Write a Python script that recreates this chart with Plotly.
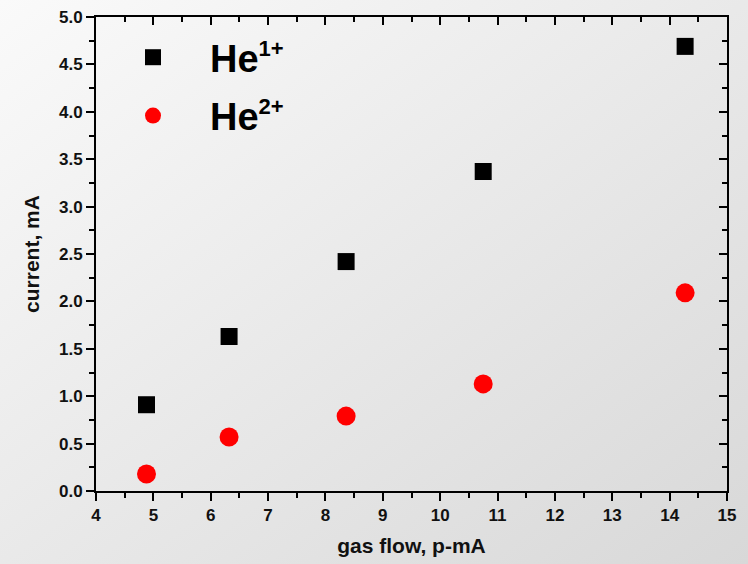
import base64
import plotly.graph_objects as go

# Measured ion currents versus gas flow
gas_flow = [4.88, 6.32, 8.36, 10.75, 14.27]
he1_current = [0.91, 1.63, 2.42, 3.37, 4.69]
he2_current = [0.18, 0.57, 0.79, 1.13, 2.09]

x_ticks = list(range(4, 16))
y_ticks = [0.0, 0.5, 1.0, 1.5, 2.0, 2.5, 3.0, 3.5, 4.0, 4.5, 5.0]

W, H = 748, 564
ML, MR, MT, MB = 96, 21, 17, 73
PW, PH = W - ML - MR, H - MT - MB

FONT = "Liberation Sans"

# soft diagonal grey gradient behind the whole figure
svg = (
    f'<svg xmlns="http://www.w3.org/2000/svg" width="{W}" height="{H}">'
    '<defs><linearGradient id="g" x1="0" y1="0" x2="1" y2="1">'
    '<stop offset="0" stop-color="#fafafa"/><stop offset="1" stop-color="#d8d8d8"/>'
    '</linearGradient></defs>'
    f'<rect width="{W}" height="{H}" fill="url(#g)"/></svg>'
)
bg_uri = "data:image/svg+xml;base64," + base64.b64encode(svg.encode()).decode()

fig = go.Figure()
fig.add_trace(go.Scatter(
    x=gas_flow, y=he1_current, mode="markers",
    name='<b>He<sup><span style="font-size:22px">1+</span></sup></b>',
    marker=dict(symbol="square", size=17, color="black"),
    legendgroup="a",
))
fig.add_trace(go.Scatter(
    x=gas_flow, y=he2_current, mode="markers",
    name='<b>He<sup><span style="font-size:22px">2+</span></sup></b>',
    marker=dict(symbol="circle", size=19, color="#ff0000"),
    legendgroup="b",
))

axis_common = dict(
    showline=True, linecolor="black", linewidth=2,
    ticklen=8, tickwidth=2, tickcolor="black",
    showgrid=False, zeroline=False, automargin=False,
    tickfont=dict(family=FONT, size=17, color="#111111", weight="bold"),
)
frame_axis = {k: v for k, v in axis_common.items() if k != "tickfont"}

fig.update_layout(
    width=W, height=H,
    margin=dict(l=ML, r=MR, t=MT, b=MB),
    paper_bgcolor="rgba(0,0,0,0)", plot_bgcolor="rgba(0,0,0,0)",
    font=dict(family=FONT, color="#111111"),
    xaxis=dict(
        range=[4, 15], tickvals=x_ticks, ticks="outside",
        minor=dict(dtick=0.5, ticklen=5, tickwidth=2, tickcolor="black", ticks="outside"),
        title=dict(text="gas flow, p-mA", standoff=14,
                   font=dict(family=FONT, size=21, weight="bold", color="#111111")),
        **axis_common,
    ),
    yaxis=dict(
        range=[0, 5], tickvals=y_ticks, tickformat=".1f", ticks="outside",
        minor=dict(dtick=0.25, ticklen=5, tickwidth=2, tickcolor="black", ticks="outside"),
        title=dict(text="current, mA", standoff=14,
                   font=dict(family=FONT, size=21, weight="bold", color="#111111")),
        **axis_common,
    ),
    xaxis2=dict(
        overlaying="x", side="top", matches="x", range=[4, 15], tickvals=x_ticks,
        ticks="inside", showticklabels=False,
        minor=dict(dtick=0.5, ticklen=5, tickwidth=2, tickcolor="black", ticks="inside"),
        **frame_axis,
    ),
    yaxis2=dict(
        overlaying="y", side="right", range=[0, 5], tickvals=y_ticks,
        ticks="inside", showticklabels=False,
        minor=dict(dtick=0.25, ticklen=5, tickwidth=2, tickcolor="black", ticks="inside"),
        **frame_axis,
    ),
    legend=dict(
        x=0.0, y=0.981, xanchor="left", yanchor="top",
        bgcolor="rgba(0,0,0,0)", borderwidth=0,
        font=dict(family=FONT, size=38, color="black"),
        itemwidth=104, tracegroupgap=6,
    ),
    images=[dict(
        source=bg_uri, xref="paper", yref="paper",
        x=-ML / PW, y=1 + MT / PH, sizex=W / PW, sizey=H / PH,
        xanchor="left", yanchor="top", sizing="stretch", layer="below",
    )],
)

# empty helper trace so the mirrored frame axes are drawn
fig.add_trace(go.Scatter(x=[], y=[], xaxis="x2", yaxis="y2", showlegend=False, hoverinfo="skip"))

fig.write_html("out.html")
